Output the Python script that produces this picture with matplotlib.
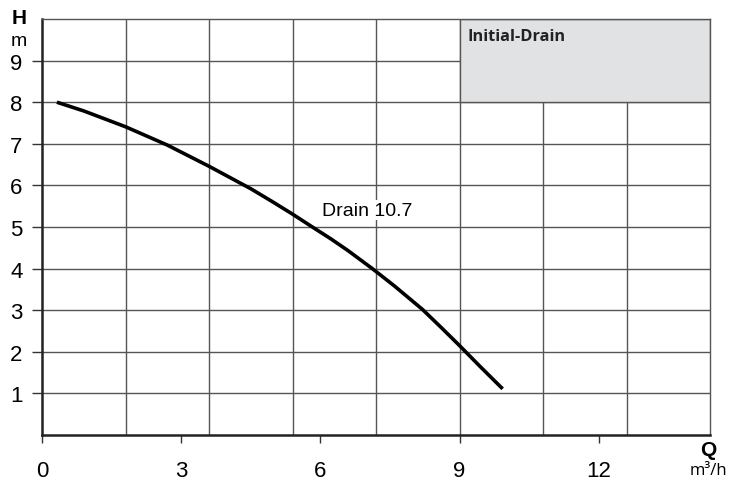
import numpy as np
import matplotlib.pyplot as plt
from matplotlib.patches import Rectangle

# curve
q = [0.32, 0.9, 1.8, 2.7, 3.6, 4.5, 4.95, 5.4, 5.8, 6.22, 6.6, 7.12, 7.6,
     8.2, 8.6, 9.0, 9.45, 9.93]
h = [8.0, 7.79, 7.41, 6.97, 6.46, 5.92, 5.62, 5.31, 5.02, 4.72, 4.43, 4.0, 3.58,
     3.02, 2.59, 2.15, 1.64, 1.11]
curve_label = "Drain 10.7"
box_label = "Initial-Drain"
x_ticks = [0, 3, 6, 9, 12]
y_ticks = [1, 2, 3, 4, 5, 6, 7, 8, 9]

fig = plt.figure(figsize=(7.3, 4.89), dpi=100)
ax = fig.add_axes([42 / 730, 53 / 489, 668 / 730, 416 / 489])

ax.set_xlim(0, 14.4)
ax.set_ylim(0, 10)

# grid
for gx in np.arange(1.8, 14.4, 1.8):
    ax.axvline(gx, color="#555555", lw=1.0, zorder=1)
for gy in y_ticks:
    ax.axhline(gy, color="#555555", lw=1.0, zorder=1)

ax.add_patch(Rectangle((9, 8), 5.4, 2, facecolor="#e1e2e4", edgecolor="#555555",
                       lw=1.0, zorder=2))
ax.text(9.18, 9.58, box_label, fontsize=11.8, fontweight="bold", family="Open Sans",
        color="#222222", va="center", ha="left", zorder=3)

ax.plot(q, h, color="black", lw=2.6, zorder=4, solid_capstyle="butt")
ax.text(7.0, 5.4, curve_label, fontsize=14, family="Liberation Sans", ha="center",
        va="center", zorder=3,
        bbox=dict(facecolor="white", edgecolor="none", pad=1))

ax.set_xticks(x_ticks)
ax.set_xticklabels([str(v) for v in x_ticks])
ax.set_yticks(y_ticks)
ax.set_yticklabels([str(v) for v in y_ticks])
ax.tick_params(axis="x", length=6, width=1, pad=12, labelsize=16, color="#333333")
ax.tick_params(axis="y", length=7, width=1, pad=7, labelsize=16, color="#333333")
for lab in ax.get_xticklabels() + ax.get_yticklabels():
    lab.set_family("Liberation Sans")

ax.spines["left"].set_linewidth(1.8)
ax.spines["bottom"].set_linewidth(1.8)
ax.spines["left"].set_color("#222222")
ax.spines["bottom"].set_color("#222222")
ax.spines["top"].set_linewidth(1.0)
ax.spines["right"].set_linewidth(1.0)
ax.spines["top"].set_color("#555555")
ax.spines["right"].set_color("#555555")

fig.text(19 / 730, 1 - 18 / 489, "H", fontsize=15, fontweight="bold",
         family="Liberation Sans", ha="center", va="center")
fig.text(19 / 730, 1 - 41 / 489, "m", fontsize=14, family="Liberation Sans",
         ha="center", va="center")
fig.text(708 / 730, 1 - 451 / 489, "Q", fontsize=15, fontweight="bold",
         family="Liberation Sans", ha="center", va="center")
fig.text(708 / 730, 1 - 471 / 489, "m³/h", fontsize=12, family="Open Sans",
         ha="center", va="center")

fig.savefig("out.png", dpi=100)
